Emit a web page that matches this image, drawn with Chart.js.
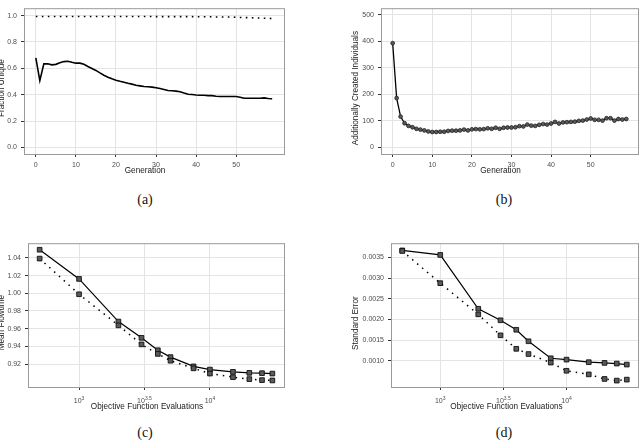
<!DOCTYPE html>
<html><head><meta charset="utf-8">
<script src="https://cdn.jsdelivr.net/npm/chart.js@4"></script>
<style>
html,body{margin:0;padding:0;background:#fff;}
body{width:644px;height:442px;position:relative;overflow:hidden;}
.p{position:absolute;width:322px;height:190px;}
canvas{display:block;}
.cap{position:absolute;font-family:"Liberation Serif","DejaVu Serif",serif;font-size:14px;color:#111;transform:translate(-50%,-50%);white-space:nowrap;}
</style></head><body>
<div class="p" style="left:0;top:0"><canvas id="ca" width="322" height="190"></canvas></div>
<div class="p" style="left:322px;top:0"><canvas id="cb" width="322" height="190"></canvas></div>
<div class="p" style="left:0;top:235px"><canvas id="cc" width="322" height="190"></canvas></div>
<div class="p" style="left:322px;top:235px"><canvas id="cd" width="322" height="190"></canvas></div>
<div class="cap" style="left:145px;top:200px">(a)</div>
<div class="cap" style="left:504px;top:200px">(b)</div>
<div class="cap" style="left:145px;top:433px">(c)</div>
<div class="cap" style="left:504px;top:433px">(d)</div>
<script>
// ---------- data ----------
const generations = [0,1,2,3,4,5,6,7,8,9,10,11,12,13,14,15,16,17,18,19,20,21,22,23,24,25,26,27,28,29,30,31,32,33,34,35,36,37,38,39,40,41,42,43,44,45,46,47,48,49,50,51,52,53,54,55,56,57,58,59];
const uniqueSolid = [0.680,0.507,0.634,0.634,0.626,0.630,0.643,0.651,0.654,0.646,0.639,0.639,0.631,0.614,0.599,0.584,0.565,0.547,0.532,0.520,0.510,0.502,0.495,0.487,0.480,0.472,0.467,0.462,0.460,0.457,0.452,0.447,0.440,0.432,0.430,0.427,0.422,0.412,0.403,0.401,0.398,0.396,0.396,0.393,0.393,0.388,0.386,0.386,0.386,0.386,0.386,0.381,0.373,0.373,0.373,0.373,0.373,0.376,0.371,0.369];
const uniqueDotted = [0.993,0.993,0.993,0.993,0.993,0.993,0.993,0.993,0.993,0.993,0.993,0.993,0.993,0.993,0.993,0.993,0.993,0.993,0.993,0.993,0.993,0.993,0.993,0.993,0.993,0.993,0.993,0.993,0.993,0.993,0.992,0.992,0.992,0.992,0.992,0.992,0.992,0.992,0.992,0.992,0.991,0.991,0.991,0.991,0.991,0.989,0.989,0.989,0.989,0.989,0.987,0.986,0.985,0.984,0.983,0.982,0.981,0.980,0.979,0.978];
const createdIndividuals = [393,186,116,91,81,76,70,67,64,60,58,58,59,59,62,63,63,64,67,64,68,69,68,69,72,70,74,70,74,75,75,76,80,79,86,82,81,85,88,86,90,96,90,94,95,96,97,100,101,105,109,104,104,101,110,110,101,107,105,107];
const evaluations = [500,1000,2000,3000,4000,5000,7500,10000,15000,20000,25000,30000];
const flowtimeSolid = [1.0492,1.0162,0.9680,0.9496,0.9356,0.9278,0.9173,0.9137,0.9111,0.9100,0.9096,0.9092];
const flowtimeDotted = [1.0392,0.9989,0.9637,0.9422,0.9314,0.9237,0.9151,0.9092,0.9051,0.9029,0.9018,0.9014];
const errorSolid = [0.003666,0.003557,0.002259,0.001981,0.001752,0.001475,0.001065,0.001032,0.000970,0.000953,0.000937,0.000913];
const errorDotted = [0.003652,0.002876,0.002124,0.001618,0.001293,0.001167,0.000960,0.000763,0.000676,0.000566,0.000526,0.000550];
const genTicks = [0,10,20,30,40,50];
const genTickLabels = ['0','10','20','30','40','50'];
const fracTicks = [0,0.2,0.4,0.6,0.8,1.0];
const fracTickLabels = ['0.0','0.2','0.4','0.6','0.8','1.0'];
const createdTicks = [0,100,200,300,400,500];
const createdTickLabels = ['0','100','200','300','400','500'];
const evalTickExponents = [3,3.5,4];
const evalTickExpLabels = ['3','3.5','4'];
const flowTicks = [0.92,0.94,0.96,0.98,1.00,1.02,1.04];
const flowTickLabels = ['0.92','0.94','0.96','0.98','1.00','1.02','1.04'];
const errTicks = [0.0010,0.0015,0.0020,0.0025,0.0030,0.0035];
const errTickLabels = ['0.0010','0.0015','0.0020','0.0025','0.0030','0.0035'];

// ---------- styling ----------
const FONT = "'Liberation Sans', Arial, sans-serif";
const TICK_COLOR = '#4d4d4d';
const GRID_COLOR = '#e4e4e4';

const deco = {
  id: 'deco',
  afterDraw(chart, args, o) {
    const {ctx, chartArea: a} = chart;
    ctx.save();
    ctx.strokeStyle = '#9a9a9a';
    ctx.lineWidth = 1;
    ctx.strokeRect(a.left + 0.5, a.top + 0.5, a.right - a.left, a.bottom - a.top);
    ctx.fillStyle = '#1a1a1a';
    ctx.font = '8.2px ' + FONT;
    ctx.textAlign = 'center';
    ctx.textBaseline = 'middle';
    ctx.fillText(o.xTitle, (a.left + a.right) / 2 + o.xdx, a.bottom + o.xdy);
    ctx.save();
    ctx.translate(o.yx, (a.top + a.bottom) / 2 + o.ydy);
    ctx.rotate(-Math.PI / 2);
    ctx.fillText(o.yTitle, 0, 0);
    ctx.restore();
    if (o.sup) {
      const sc = chart.scales.x;
      ctx.fillStyle = TICK_COLOR;
      ctx.textAlign = 'left';
      ctx.textBaseline = 'alphabetic';
      sc.ticks.forEach((t, i) => {
        const px = sc.getPixelForValue(t.value);
        ctx.font = '7px ' + FONT;
        const wb = ctx.measureText('10').width;
        ctx.font = '5px ' + FONT;
        const we = ctx.measureText(evalTickExpLabels[i]).width;
        const x0 = px - (wb + we) / 2;
        const yb = a.bottom + o.supY;
        ctx.font = '7px ' + FONT;
        ctx.fillText('10', x0, yb);
        ctx.font = '5px ' + FONT;
        ctx.fillText(evalTickExpLabels[i], x0 + wb, yb - 3.2);
      });
    }
    ctx.restore();
  }
};

function axis(type, min, max, tickVals, labels, fitFn) {
  return {
    type, min, max,
    afterBuildTicks: s => { s.ticks = tickVals.map(v => ({value: v})); },
    afterFit: fitFn,
    ticks: {
      callback: (v, i) => labels ? labels[i] : '',
      color: TICK_COLOR,
      font: {family: FONT, size: 7},
      padding: 4,
      maxRotation: 0, autoSkip: false
    },
    grid: {color: GRID_COLOR, lineWidth: 1, tickLength: 3, tickColor: '#333', tickWidth: 1},
    border: {display: false}
  };
}

function make(id, area, xs, ys, datasets, decoOpts) {
  return new Chart(document.getElementById(id), {
    type: 'line',
    data: {datasets},
    options: {
      responsive: false, animation: false, devicePixelRatio: 1,
      layout: {padding: {left: 0, top: area.t, right: 322 - area.r, bottom: 0}},
      plugins: {legend: {display: false}, tooltip: {enabled: false}, deco: decoOpts},
      elements: {line: {tension: 0}},
      scales: {
        x: axis(xs.type, xs.min, xs.max, xs.ticks, xs.labels, s => { s.height = 190 - area.b; }),
        y: axis('linear', ys.min, ys.max, ys.ticks, ys.labels, s => { s.width = area.l; })
      }
    },
    plugins: [deco]
  });
}

const pairs = (xs, ys) => xs.map((x, i) => ({x, y: ys[i]}));
const evalTickValues = evalTickExponents.map(e => Math.pow(10, e));

// (a)
make('ca', {l: 24, r: 284, t: 5, b: 154},
  {type: 'linear', min: -2.95, max: 61.95, ticks: genTicks, labels: genTickLabels},
  {min: -0.05, max: 1.056, ticks: fracTicks, labels: fracTickLabels},
  [
    {data: pairs(generations, uniqueDotted), borderColor: '#000', borderWidth: 1.6, borderDash: [1.6, 4.4], pointRadius: 0},
    {data: pairs(generations, uniqueSolid), borderColor: '#000', borderWidth: 1.6, pointRadius: 0}
  ],
  {xTitle: 'Generation', yTitle: 'Fraction Unique', xdx: -9, xdy: 17, yx: 1.8, ydy: 7});

// (b)
make('cb', {l: 59, r: 316, t: 6, b: 154},
  {type: 'linear', min: -2.95, max: 61.95, ticks: genTicks, labels: genTickLabels},
  {min: -25, max: 525, ticks: createdTicks, labels: createdTickLabels},
  [
    {data: pairs(generations, createdIndividuals), borderColor: '#000', borderWidth: 1.3,
     pointRadius: 1.9, pointBackgroundColor: '#5a5a5a', pointBorderColor: '#222', pointBorderWidth: 0.8}
  ],
  {xTitle: 'Generation', yTitle: 'Additionally Created Individuals', xdx: -9, xdy: 16.7, yx: 33.6, ydy: 7});

// (c)
make('cc', {l: 28, r: 284, t: 6, b: 152},
  {type: 'logarithmic', min: Math.pow(10, 2.61), max: Math.pow(10, 4.566), ticks: evalTickValues, labels: null},
  {min: 0.894, max: 1.0566, ticks: flowTicks, labels: flowTickLabels},
  [
    {data: pairs(evaluations, flowtimeDotted), borderColor: '#000', borderWidth: 1.5, borderDash: [1.5, 5],
     pointStyle: 'rect', pointRadius: 3.3, pointBackgroundColor: '#5a5a5a', pointBorderColor: '#111', pointBorderWidth: 0.9},
    {data: pairs(evaluations, flowtimeSolid), borderColor: '#000', borderWidth: 1.2,
     pointStyle: 'rect', pointRadius: 3.3, pointBackgroundColor: '#5a5a5a', pointBorderColor: '#111', pointBorderWidth: 0.9}
  ],
  {xTitle: 'Objective Function Evaluations', yTitle: 'Mean Flowtime', xdx: -9, xdy: 19.3, yx: 1.8, ydy: 7.5, sup: true, supY: 16});

// (d)
make('cd', {l: 69, r: 316, t: 6, b: 152},
  {type: 'logarithmic', min: Math.pow(10, 2.61), max: Math.pow(10, 4.566), ticks: evalTickValues, labels: null},
  {min: 0.000372, max: 0.00384, ticks: errTicks, labels: errTickLabels},
  [
    {data: pairs(evaluations, errorDotted), borderColor: '#000', borderWidth: 1.5, borderDash: [1.5, 5],
     pointStyle: 'rect', pointRadius: 3.3, pointBackgroundColor: '#5a5a5a', pointBorderColor: '#111', pointBorderWidth: 0.9},
    {data: pairs(evaluations, errorSolid), borderColor: '#000', borderWidth: 1.2,
     pointStyle: 'rect', pointRadius: 3.3, pointBackgroundColor: '#5a5a5a', pointBorderColor: '#111', pointBorderWidth: 0.9}
  ],
  {xTitle: 'Objective Function Evaluations', yTitle: 'Standard Error', xdx: -8, xdy: 19.3, yx: 33.6, ydy: 8, sup: true, supY: 16});
</script>
</body></html>
